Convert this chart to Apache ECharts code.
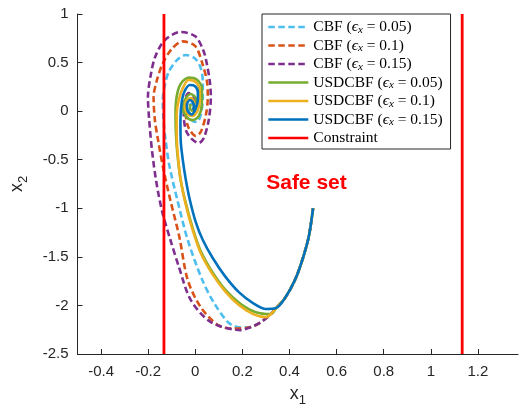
<!DOCTYPE html>
<html>
<head>
<meta charset="utf-8">
<script src="https://cdn.jsdelivr.net/npm/echarts@6/dist/echarts.min.js"></script>
<style>html,body{margin:0;padding:0;background:#fff}#c{width:519px;height:413px}</style>
</head>
<body>
<div id="c"></div>
<script>
// ---- data (x1, x2) ----
var startPath = [[0.5,-1.0],[0.483,-1.277],[0.457,-1.512],[0.423,-1.739],[0.381,-1.924]];

var usd015 = startPath.concat([[0.343,-2.027],[0.300,-2.037],[0.245,-1.976],[0.185,-1.863],[0.126,-1.698],[0.074,-1.512],[0.032,-1.327],[0.002,-1.142],[-0.023,-0.915],[-0.040,-0.709],[-0.053,-0.503],[-0.062,-0.298],[-0.063,-0.092],[-0.057,0.104],[-0.045,0.207],[-0.023,0.269],[-0.002,0.258],[0.011,0.197],[0.011,0.114],[0.002,0.032],[-0.015,-0.035],[-0.032,0.001],[-0.036,0.063],[-0.023,0.114],[-0.011,0.094],[-0.006,0.042],[-0.011,0.011]]);

var usd01 = startPath.concat([[0.343,-2.027],[0.321,-2.089],[0.300,-2.120],[0.245,-2.089],[0.185,-1.996],[0.126,-1.852],[0.070,-1.667],[0.023,-1.461],[-0.011,-1.224],[-0.040,-0.967],[-0.062,-0.709],[-0.074,-0.452],[-0.079,-0.246],[-0.079,-0.040],[-0.070,0.114],[-0.053,0.238],[-0.028,0.320],[0.002,0.300],[0.019,0.217],[0.019,0.114],[0.011,0.011],[-0.011,-0.050],[-0.032,-0.030],[-0.045,0.042],[-0.036,0.114],[-0.019,0.135],[-0.006,0.094],[-0.006,0.032],[-0.015,0.011]]);

var usd005 = startPath.concat([[0.343,-2.027],[0.321,-2.089],[0.257,-2.070],[0.190,-1.980],[0.128,-1.840],[0.072,-1.655],[0.023,-1.440],[-0.011,-1.205],[-0.040,-0.950],[-0.063,-0.695],[-0.076,-0.440],[-0.082,-0.240],[-0.084,-0.040],[-0.079,0.150],[-0.062,0.280],[-0.028,0.345],[0.006,0.325],[0.028,0.238],[0.028,0.083],[0.015,-0.050],[-0.011,-0.092],[-0.036,-0.061],[-0.053,0.032],[-0.040,0.135],[-0.019,0.176],[0.002,0.135],[0.006,0.053],[-0.011,0.001],[-0.023,0.032],[-0.019,0.073]]);

var cbfBottom = [[0.343,-2.027],[0.321,-2.089],[0.279,-2.171],[0.236,-2.223]];

var cbf005 = startPath.concat(cbfBottom, [[0.194,-2.228],[0.143,-2.181],[0.081,-1.980],[0.030,-1.739],[-0.032,-1.327],[-0.076,-0.915],[-0.110,-0.560],[-0.126,-0.298],[-0.135,-0.090],[-0.138,0.114],[-0.128,0.280],[-0.113,0.402],[-0.080,0.520],[-0.040,0.578],[0.000,0.540],[0.023,0.444],[0.032,0.300],[0.032,0.145],[0.023,-0.040],[0.006,-0.112],[-0.015,-0.092],[-0.028,-0.009],[-0.019,0.073],[-0.002,0.073],[0.002,0.011],[-0.011,-0.009]]);

var cbf01 = startPath.concat(cbfBottom, [[0.160,-2.238],[0.096,-2.202],[0.023,-2.017],[-0.032,-1.739],[-0.068,-1.290],[-0.106,-0.915],[-0.136,-0.590],[-0.158,-0.298],[-0.172,-0.080],[-0.177,0.145],[-0.165,0.300],[-0.140,0.480],[-0.100,0.640],[-0.053,0.718],[0.000,0.670],[0.032,0.475],[0.050,0.300],[0.053,0.145],[0.045,-0.040],[0.023,-0.215],[0.002,-0.256],[-0.028,-0.174],[-0.040,-0.040],[-0.036,0.063],[-0.019,0.114],[-0.002,0.083],[-0.002,0.011]]);

var cbf015 = startPath.concat(cbfBottom, [[0.194,-2.254],[0.066,-2.171],[-0.019,-1.945],[-0.070,-1.600],[-0.105,-1.330],[-0.140,-1.040],[-0.166,-0.720],[-0.184,-0.400],[-0.196,-0.080],[-0.201,0.145],[-0.189,0.372],[-0.170,0.560],[-0.130,0.730],[-0.062,0.815],[0.000,0.770],[0.035,0.620],[0.050,0.475],[0.062,0.300],[0.066,0.145],[0.057,-0.092],[0.036,-0.277],[0.015,-0.328],[-0.019,-0.277],[-0.040,-0.195],[-0.049,-0.040],[-0.045,0.114],[-0.028,0.186],[-0.006,0.145],[0.002,0.063],[-0.011,0.011]]);

var constraintX = [-0.133, 1.133];
var yRange = [-2.5, 1];
var xRange = [-0.5, 1.37];
var xTicks = [-0.4, -0.2, 0, 0.2, 0.4, 0.6, 0.8, 1, 1.2];
var safeSetPos = [0.472, -0.74];

var names = ['CBF 0.05','CBF 0.1','CBF 0.15','USDCBF 0.05','USDCBF 0.1','USDCBF 0.15','Constraint'];
var legendText = {
  'CBF 0.05': 'CBF ({e|ϵ}{s|x}{n| = 0.05})',
  'CBF 0.1': 'CBF ({e|ϵ}{s|x}{n| = 0.1})',
  'CBF 0.15': 'CBF ({e|ϵ}{s|x}{n| = 0.15})',
  'USDCBF 0.05': 'USDCBF ({e|ϵ}{s|x}{n| = 0.05})',
  'USDCBF 0.1': 'USDCBF ({e|ϵ}{s|x}{n| = 0.1})',
  'USDCBF 0.15': 'USDCBF ({e|ϵ}{s|x}{n| = 0.15})',
  'Constraint': 'Constraint'
};

function traj(name, data, color, dashed) {
  return {
    name: name, type: 'line', data: data, symbol: 'none', smooth: 0.3,
    legendIcon: 'none',
    lineStyle: { color: color, width: 2.6, type: dashed ? [6.5, 3.5] : 'solid', cap: 'butt' },
    itemStyle: { color: color }
  };
}
function vline(x) {
  return {
    name: 'Constraint', type: 'line', symbol: 'none', legendIcon: 'none',
    data: [[x, yRange[0]], [x, yRange[1]]],
    lineStyle: { color: '#FF0000', width: 2.8 }, itemStyle: { color: '#FF0000' }
  };
}

var axisCol = '#262626';
var chart = echarts.init(document.getElementById('c'), null, { renderer: 'canvas' });
chart.setOption({
  animation: false,
  backgroundColor: '#ffffff',
  grid: { left: 77, top: 14, right: 1, bottom: 59 },
  xAxis: {
    type: 'value', min: xRange[0], max: xRange[1],
    axisLine: { show: true, onZero: false, lineStyle: { color: axisCol, width: 1 } },
    axisTick: { show: true, inside: true, length: 5, customValues: xTicks, lineStyle: { color: axisCol } },
    axisLabel: { customValues: xTicks, color: axisCol, fontSize: 15, fontFamily: 'Liberation Sans', margin: 10 },
    splitLine: { show: false },
    name: '{a|x}{b|1}', nameLocation: 'middle', nameGap: 28,
    nameTextStyle: { rich: {
      a: { fontSize: 18, fontFamily: 'Liberation Sans', color: axisCol },
      b: { fontSize: 13, fontFamily: 'Liberation Sans', color: axisCol, padding: [12, 0, 0, 0] }
    } }
  },
  yAxis: {
    type: 'value', min: yRange[0], max: yRange[1], interval: 0.5,
    axisLine: { show: true, onZero: false, lineStyle: { color: axisCol, width: 1 } },
    axisTick: { show: true, inside: true, length: 5, lineStyle: { color: axisCol } },
    axisLabel: { color: axisCol, fontSize: 15, fontFamily: 'Liberation Sans', margin: 9 },
    splitLine: { show: false },
    name: '{a|x}{b|2}', nameLocation: 'middle', nameGap: 48, nameRotate: 90,
    nameTextStyle: { rich: {
      a: { fontSize: 18, fontFamily: 'Liberation Sans', color: axisCol },
      b: { fontSize: 13, fontFamily: 'Liberation Sans', color: axisCol, padding: [12, 0, 0, 0] }
    } }
  },
  legend: {
    data: names, orient: 'vertical', left: 262, top: 14,
    padding: [5, 8, 3, 5], itemGap: 2, itemWidth: 40, itemHeight: 15,
    borderColor: axisCol, borderWidth: 1, backgroundColor: '#ffffff', borderRadius: 0,
    selectedMode: false,
    itemStyle: { opacity: 0 },
    lineStyle: { width: 2.6 },
    formatter: function (n) { return legendText[n]; },
    textStyle: {
      color: '#000', fontSize: 15.5, fontFamily: 'Liberation Serif',
      rich: {
        e: { fontSize: 15.5, fontFamily: 'Liberation Serif', fontStyle: 'italic', color: '#000' },
        s: { fontSize: 11, fontFamily: 'Liberation Serif', fontStyle: 'italic', color: '#000', padding: [6, 0, 0, 0] },
        n: { fontSize: 15.5, fontFamily: 'Liberation Serif', color: '#000' }
      }
    }
  },
  series: [
    traj('CBF 0.05', cbf005, '#4DBEEE', true),
    traj('CBF 0.1', cbf01, '#D95319', true),
    traj('CBF 0.15', cbf015, '#7E2F8E', true),
    traj('USDCBF 0.05', usd005, '#77AC30', false),
    traj('USDCBF 0.1', usd01, '#EDB120', false),
    traj('USDCBF 0.15', usd015, '#0072BD', false),
    vline(constraintX[0]),
    vline(constraintX[1]),
    {
      name: 'label', type: 'scatter', symbolSize: 0, data: [safeSetPos], silent: true,
      itemStyle: { opacity: 1 },
      label: { show: true, position: 'inside', formatter: 'Safe set', color: '#FF0000', opacity: 1,
        textBorderWidth: 0, fontSize: 21, fontWeight: 'bold', fontFamily: 'Liberation Sans' }
    }
  ]
});
</script>
</body>
</html>
